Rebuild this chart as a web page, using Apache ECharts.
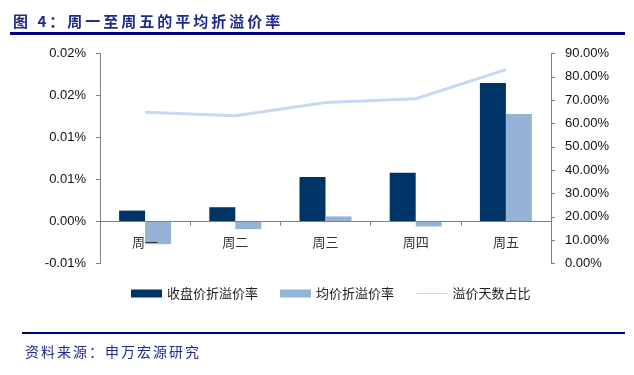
<!DOCTYPE html>
<html>
<head>
<meta charset="utf-8">
<script src="https://cdn.jsdelivr.net/npm/echarts@6/dist/echarts.min.js"></script>
<style>
  html, body { margin: 0; padding: 0; background: #fff; }
  #wrap { position: relative; width: 634px; height: 375px; overflow: hidden; }
  #chart { position: absolute; left: 0; top: 0; width: 634px; height: 375px; }
  .title { position: absolute; left: 13px; top: 10px; font: bold 15px 'Noto Sans CJK SC', sans-serif; letter-spacing: 3px; color: #1f2a8c; white-space: nowrap; }
  .source { position: absolute; left: 25px; top: 341px; font: 14px 'Noto Sans CJK SC', sans-serif; letter-spacing: 2px; color: #1f2a8c; white-space: nowrap; }
  .rule { position: absolute; background: #000080; }
</style>
</head>
<body>
<div id="wrap">
  <div id="chart"></div>
  <div class="title">图 4：周一至周五的平均折溢价率</div>
  <div class="rule" style="left:10px; top:32px; width:615px; height:3px;"></div>
  <div class="rule" style="left:22px; top:332px; width:603px; height:2px;"></div>
  <div class="source">资料来源：申万宏源研究</div>
</div>
<script>
  // data (percent units)
  const days = ['周一', '周二', '周三', '周四', '周五'];
  const closePremium = [0.0013, 0.0017, 0.0053, 0.0058, 0.0165];
  const avgPremium = [-0.0027, -0.0009, 0.0006, -0.0006, 0.0128];
  const premiumDaysShare = [64.8, 63.3, 69.0, 70.6, 83.1];
  const leftTicks = ['-0.01%', '0.00%', '0.01%', '0.01%', '0.02%', '0.02%'];

  const chart = echarts.init(document.getElementById('chart'));
  const axisGray = '#808080';
  const leftMin = -0.005, leftStep = 0.005;

  chart.setOption({
    animation: false,
    textStyle: { fontFamily: 'Liberation Sans, Arial, sans-serif' },
    grid: { left: 100, right: 83, top: 53.5, bottom: 111.5 },
    legend: {
      left: 131, top: 287, padding: 0,
      itemWidth: 31, itemHeight: 8, itemGap: 22,
      textStyle: { fontSize: 13, color: '#222', fontFamily: 'Noto Sans CJK SC' },
      data: [
        { name: '收盘价折溢价率', icon: 'rect' },
        { name: '均价折溢价率', icon: 'rect' },
        { name: '溢价天数占比', lineStyle: { width: 1 }, itemStyle: { opacity: 0 } },
      ],
    },
    xAxis: {
      type: 'category',
      data: days,
      z: 5,
      // sits on the zero line of the left axis (4 of 5 steps down the 210px grid)
      offset: -42,
      axisLine: { onZero: false, lineStyle: { color: axisGray } },
      axisTick: { show: true, length: 4, lineStyle: { color: axisGray } },
      axisLabel: { margin: 14, fontSize: 13, color: '#333', fontFamily: 'Noto Sans CJK SC' },
    },
    yAxis: [
      {
        type: 'value', min: leftMin, max: 0.02, interval: leftStep,
        axisLine: { show: true, lineStyle: { color: axisGray } },
        axisTick: { show: true, length: 4, lineStyle: { color: axisGray } },
        splitLine: { show: false },
        axisLabel: {
          margin: 14, fontSize: 13, color: '#111',
          formatter: (v) => leftTicks[Math.round((v - leftMin) / leftStep)],
        },
      },
      {
        type: 'value', min: 0, max: 90, interval: 10,
        axisLine: { show: true, lineStyle: { color: axisGray } },
        axisTick: { show: true, length: 4, lineStyle: { color: axisGray } },
        splitLine: { show: false },
        axisLabel: { margin: 14, fontSize: 13, color: '#111', formatter: (v) => v.toFixed(2) + '%' },
      },
    ],
    series: [
      { name: '收盘价折溢价率', type: 'bar', data: closePremium, barWidth: 26, barGap: '0%', itemStyle: { color: '#003366' } },
      { name: '均价折溢价率', type: 'bar', data: avgPremium, barWidth: 26, itemStyle: { color: '#95b3d7' } },
      {
        name: '溢价天数占比', type: 'line', yAxisIndex: 1, data: premiumDaysShare,
        symbol: 'none', lineStyle: { width: 3, color: '#c6d9f1' }, itemStyle: { color: '#c6d9f1' },
      },
    ],
  });
</script>
</body>
</html>
